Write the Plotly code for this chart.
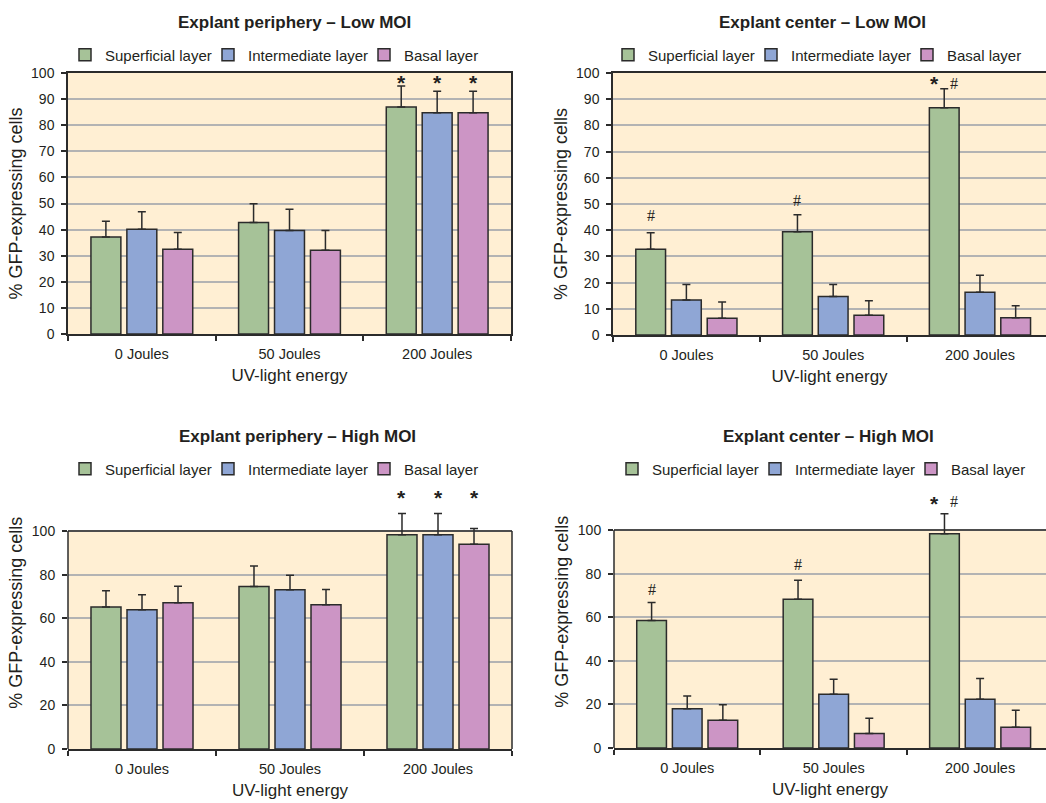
import plotly.graph_objects as go

# ---------------- data ----------------
categories = ["0 Joules", "50 Joules", "200 Joules"]
layer_names = ["Superficial layer", "Intermediate layer", "Basal layer"]
layer_colors = ["#A6C298", "#8FA6D5", "#CC95C5"]

# Explant periphery - Low MOI
pl_sup = [37.2, 42.7, 87.0]
pl_int = [40.1, 39.7, 84.8]
pl_bas = [32.5, 32.1, 84.8]
pl_sup_err = [6.0, 7.2, 8.0]
pl_int_err = [6.7, 8.1, 8.2]
pl_bas_err = [6.4, 7.6, 8.2]

# Explant center - Low MOI
cl_sup = [32.7, 39.4, 86.7]
cl_int = [13.4, 14.7, 16.3]
cl_bas = [6.4, 7.5, 6.6]
cl_sup_err = [6.3, 6.5, 7.3]
cl_int_err = [5.9, 4.6, 6.5]
cl_bas_err = [6.2, 5.6, 4.6]

# Explant periphery - High MOI
ph_sup = [65.1, 74.5, 98.3]
ph_int = [63.9, 73.1, 98.3]
ph_bas = [67.1, 66.2, 93.9]
ph_sup_err = [7.5, 9.4, 9.7]
ph_int_err = [6.9, 6.6, 9.7]
ph_bas_err = [7.5, 7.0, 7.3]

# Explant center - High MOI
ch_sup = [58.5, 68.2, 98.3]
ch_int = [18.0, 24.6, 22.4]
ch_bas = [12.7, 6.7, 9.5]
ch_sup_err = [8.2, 8.7, 9.2]
ch_int_err = [5.8, 6.9, 9.5]
ch_bas_err = [7.1, 7.0, 7.8]

titles = ["Explant periphery \u2013 Low MOI", "Explant center \u2013 Low MOI",
          "Explant periphery \u2013 High MOI", "Explant center \u2013 High MOI"]

# significance marks: panel, category index, layer index, symbol, y value, side
sig_panel = [0, 0, 0, 1, 1, 1, 1, 2, 2, 2, 3, 3, 3, 3]
sig_cat = [2, 2, 2, 0, 1, 2, 2, 2, 2, 2, 0, 1, 2, 2]
sig_layer = [0, 1, 2, 0, 0, 0, 0, 0, 1, 2, 0, 0, 0, 0]
sig_symbol = ["*", "*", "*", "#", "#", "*", "#", "*", "*", "*", "#", "#", "*", "#"]
sig_y = [97.0, 97.0, 97.0, 45.8, 51.5, 96.6, 96.0, 116.5, 116.5, 116.5, 72.5, 84.4, 113.0, 113.3]
sig_side = [0, 0, 0, 0, 0, -1, 1, 0, 0, 0, 0, 0, -1, 1]

frame_top = [100, 100, 100, 100]        # top of the shaded plot frame
y_view_max = [100, 100, 125, 125]       # room above the frame for error bars / marks
y_ticks = [list(range(0, 101, 10)), list(range(0, 101, 10)),
           list(range(0, 101, 20)), list(range(0, 101, 20))]

means = [[pl_sup, pl_int, pl_bas], [cl_sup, cl_int, cl_bas],
         [ph_sup, ph_int, ph_bas], [ch_sup, ch_int, ch_bas]]
errs = [[pl_sup_err, pl_int_err, pl_bas_err], [cl_sup_err, cl_int_err, cl_bas_err],
        [ph_sup_err, ph_int_err, ph_bas_err], [ch_sup_err, ch_int_err, ch_bas_err]]

# ---------------- layout geometry ----------------
W, H = 1046, 803
FONT = "Liberation Sans, Arial, Helvetica, sans-serif"
TXT = "#231F20"
LINE = "#2B2B2B"
BG = "#FFEFD3"

# pixel positions of value 0 and value 100 for each panel
y0_px = [334, 335, 749, 748]
y100_px = [73, 73, 531, 530]
x_dom = [[68 / W, 511 / W], [613 / W, 1.0], [68 / W, 512 / W], [614 / W, 1.0]]
x_rng = [[-0.5, 2.5], [-0.5, 2.45], [-0.5, 2.5], [-0.5, 2.45]]
title_px = [(294, 22), (822, 22), (297, 437), (828, 437)]
legend_px = [(65, 55), (608, 55), (65, 469), (612, 469)]
legend_w = [98, 111, 74]

BARGAP = 0.27
slot = (1 - BARGAP) / 3

fig = go.Figure()
for p in range(4):
    ax = "" if p == 0 else str(p + 1)
    lg = "legend" if p == 0 else "legend" + str(p + 1)
    for k in range(3):
        fig.add_trace(go.Bar(
            x=categories, y=means[p][k], name=layer_names[k],
            xaxis="x" + ax, yaxis="y" + ax, legend=lg,
            offsetgroup=str(k),
            marker=dict(color=layer_colors[k], line=dict(color=LINE, width=1.5)),
            error_y=dict(type="data", array=errs[p][k], arrayminus=[0, 0, 0],
                         symmetric=False, color=LINE, thickness=1.5, width=4),
            cliponaxis=False, legendwidth=legend_w[k],
            hoverinfo="x+y+name",
        ))

layout = dict(
    template="none",
    width=W, height=H, margin=dict(l=0, r=0, t=0, b=0, pad=0),
    paper_bgcolor="white", plot_bgcolor="rgba(0,0,0,0)",
    barmode="group", bargap=BARGAP, bargroupgap=0.167,
    font=dict(family=FONT, size=14, color=TXT),
    annotations=[], shapes=[], showlegend=True,
)

for p in range(4):
    ax = "" if p == 0 else str(p + 1)
    left = p in (0, 2)
    px_per_unit = (y0_px[p] - y100_px[p]) / 100.0
    top_px = y0_px[p] - y_view_max[p] * px_per_unit
    extended = y_view_max[p] > frame_top[p]
    layout["xaxis" + ax] = dict(
        domain=x_dom[p], anchor="y" + ax, type="category", range=x_rng[p],
        showline=True, linecolor=LINE, linewidth=1.5, mirror=not extended,
        ticks="outside", tickson="boundaries", ticklen=5, tickwidth=1.5, tickcolor=LINE,
        showgrid=False, zeroline=False, automargin=False,
        tickfont=dict(size=14.5, color=TXT), ticklabelstandoff=6,
        title=dict(text="UV-light energy", font=dict(size=17, color=TXT), standoff=8),
    )
    layout["yaxis" + ax] = dict(
        domain=[1 - y0_px[p] / H, 1 - top_px / H], anchor="x" + ax,
        range=[0, y_view_max[p]], tickmode="array", tickvals=y_ticks[p],
        showline=not extended, linecolor=LINE, linewidth=1.5, mirror=left and not extended,
        ticks="outside", ticklen=5, tickwidth=1.5, tickcolor=LINE,
        showgrid=True, gridcolor="#B3B3B3", gridwidth=1.5, zeroline=False, automargin=False,
        tickfont=dict(size=14, color=TXT), ticklabelstandoff=4,
        title=dict(text="% GFP-expressing cells", font=dict(size=18, color=TXT), standoff=4),
    )
    xd = "x" + ax + " domain"
    yr = "y" + ax
    # shaded frame of the plot area
    layout["shapes"].append(dict(type="rect", xref=xd, yref=yr, x0=0, x1=1, y0=0, y1=frame_top[p],
                                 fillcolor=BG, line=dict(width=0), layer="below"))
    if extended:
        layout["shapes"].append(dict(type="line", xref=xd, yref=yr, x0=0, x1=1,
                                     y0=frame_top[p], y1=frame_top[p],
                                     line=dict(color=LINE, width=1.5), layer="above"))
        layout["shapes"].append(dict(type="line", xref=xd, yref=yr, x0=0, x1=0,
                                     y0=0, y1=frame_top[p],
                                     line=dict(color=LINE, width=1.5), layer="above"))
        if left:
            layout["shapes"].append(dict(type="line", xref=xd, yref=yr, x0=1, x1=1,
                                         y0=0, y1=frame_top[p],
                                         line=dict(color=LINE, width=1.5), layer="above"))
    lg = "legend" if p == 0 else "legend" + str(p + 1)
    layout[lg] = dict(
        orientation="h", x=legend_px[p][0] / W, y=1 - legend_px[p][1] / H,
        xanchor="left", yanchor="middle", bgcolor="rgba(0,0,0,0)",
        font=dict(size=15, color=TXT), borderwidth=0, tracegroupgap=0,
        itemclick=False, itemdoubleclick=False,
    )
    tx, ty = title_px[p]
    layout["annotations"].append(dict(
        text="<b>" + titles[p] + "</b>", x=tx / W, y=1 - ty / H, xref="paper", yref="paper",
        showarrow=False, xanchor="center", yanchor="middle",
        font=dict(size=17, color=TXT, family=FONT),
    ))

for i in range(len(sig_symbol)):
    p = sig_panel[i]
    ax = "" if p == 0 else str(p + 1)
    xpos = sig_cat[i] + (sig_layer[i] - 1) * slot
    star = sig_symbol[i] == "*"
    layout["annotations"].append(dict(
        text="<b>*</b>" if star else "#", x=xpos, y=sig_y[i], xref="x" + ax, yref="y" + ax,
        showarrow=False, xanchor="center", yanchor="middle",
        xshift=10 * sig_side[i], yshift=-2 if star else 0,
        font=dict(size=21 if star else 16, color=TXT,
                  family=FONT if star else "Liberation Serif, Times New Roman, serif"),
    ))

fig.update_layout(layout)
fig.write_html("out.html")
